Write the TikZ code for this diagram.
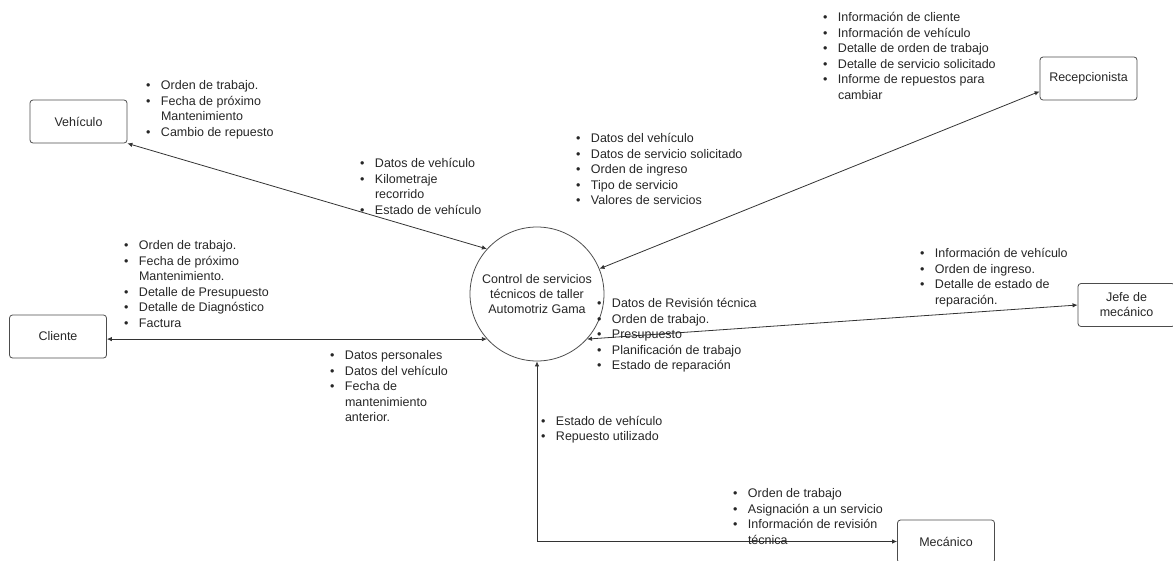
\documentclass[tikz,border=0pt]{standalone}
\usepackage{fontspec}
\setmainfont{Liberation Sans}
\usetikzlibrary{arrows.meta}

% bulleted list set as a two-column tabular, aligned on its first baseline
\newcommand{\blist}[1]{{\fontsize{12.5}{15.5}\selectfont
  \begin{tabular}[t]{@{}p{15pt}@{}l@{}}#1\end{tabular}}}
\newcommand{\bu}{\textbullet}

\tikzset{
  entity/.style={draw=black!70, line width=0.8pt, rounded corners=3pt,
    minimum width=97pt, minimum height=43pt, align=center,
    font=\fontsize{12.5}{15}\selectfont, text=black!85},
  proc/.style={draw=black!70, line width=0.8pt, circle, minimum size=134pt,
    inner sep=0pt, align=center, font=\fontsize{12.5}{15}\selectfont, text=black!85},
  flow/.style={draw=black!80, line width=0.8pt},
  both/.style={{Latex[length=5pt,width=4.5pt]}-{Latex[length=5pt,width=4.5pt]}},
  blk/.style={anchor=base west, inner sep=0pt, text=black!85}
}

\begin{document}
\begin{tikzpicture}[x=1pt,y=-1pt]
\useasboundingbox (0,0) rectangle (1173,560);

% external entities
\node[entity] (veh) at (78.5,121.5) {Vehículo};
\node[entity] (cli) at (58,336.5) {Cliente};
\node[entity] (rec) at (1088.5,78.5) {Recepcionista};
\node[entity] (jefe) at (1126.5,305) {Jefe de\\mecánico};
\node[entity] (mec) at (946,541.5) {Mecánico};

% central process
\node[proc] (proc) at (537,294) {Control de servicios\\técnicos de taller\\Automotriz Gama};

% data flows
\draw[flow,both] (veh.south east) -- (proc.138);
\draw[flow,both] (proc.22) -- ([yshift=9pt]rec.south west);
\draw[flow,both] (cli.east |- proc.222) -- (proc.222);
\draw[flow,both] (proc.318) -- (jefe.west);
\draw[flow,both] (proc.south) |- (mec.west);

% flow contents
\node[blk] (lveh) at (145.8,89.5) {\blist{
  \bu & Orden de trabajo.\\
  \bu & Fecha de próximo\\
      & Mantenimiento\\
  \bu & Cambio de repuesto}};

\node[blk] (lvehin) at (359.8,167.5) {\blist{
  \bu & Datos de vehículo\\
  \bu & Kilometraje\\
      & recorrido\\
  \bu & Estado de vehículo}};

\node[blk] (lrecin) at (575.8,142.5) {\blist{
  \bu & Datos del vehículo\\
  \bu & Datos de servicio solicitado\\
  \bu & Orden de ingreso\\
  \bu & Tipo de servicio\\
  \bu & Valores de servicios}};

\node[blk] (lrec) at (822.8,21.5) {\blist{
  \bu & Información de cliente\\
  \bu & Información de vehículo\\
  \bu & Detalle de orden de trabajo\\
  \bu & Detalle de servicio solicitado\\
  \bu & Informe de repuestos para\\
      & cambiar}};

\node[blk] (lcli) at (123.8,249.5) {\blist{
  \bu & Orden de trabajo.\\
  \bu & Fecha de próximo\\
      & Mantenimiento.\\
  \bu & Detalle de Presupuesto\\
  \bu & Detalle de Diagnóstico\\
  \bu & Factura}};

\node[blk] (lcliin) at (329.8,359.5) {\blist{
  \bu & Datos personales\\
  \bu & Datos del vehículo\\
  \bu & Fecha de\\
      & mantenimiento\\
      & anterior.}};

\node[blk] (ljefein) at (596.8,307.5) {\blist{
  \bu & Datos de Revisión técnica\\
  \bu & Orden de trabajo.\\
  \bu & Presupuesto\\
  \bu & Planificación de trabajo\\
  \bu & Estado de reparación}};

\node[blk] (ljefe) at (919.8,257.5) {\blist{
  \bu & Información de vehículo\\
  \bu & Orden de ingreso.\\
  \bu & Detalle de estado de\\
      & reparación.}};

\node[blk] (lmecin) at (540.8,425) {\blist{
  \bu & Estado de vehículo\\
  \bu & Repuesto utilizado}};

\node[blk] (lmec) at (732.8,497.5) {\blist{
  \bu & Orden de trabajo\\
  \bu & Asignación a un servicio\\
  \bu & Información de revisión\\
      & técnica}};
\end{tikzpicture}
\end{document}
